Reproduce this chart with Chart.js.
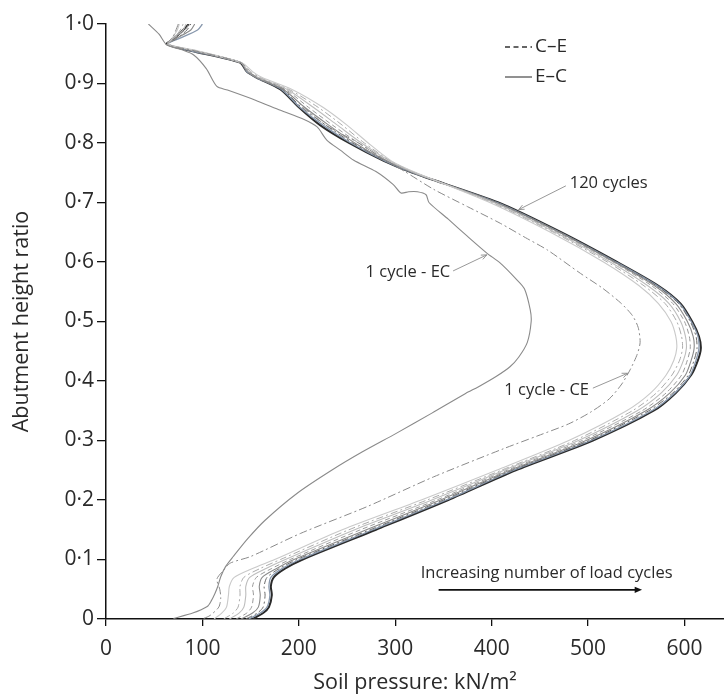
<!DOCTYPE html>
<html><head><meta charset="utf-8">
<script src="https://cdn.jsdelivr.net/npm/chart.js@4/dist/chart.umd.min.js"></script>
<style>html,body{margin:0;padding:0;background:#fff;}canvas{display:block;}</style>
</head><body>
<canvas id="c" width="724" height="697"></canvas>
<script>
// ---------- DATA ----------
// shared abutment height ratios for the cycle bundle
const heights = [0, 0.01, 0.02, 0.04, 0.055, 0.07, 0.085, 0.1, 0.15, 0.2, 0.25, 0.3, 0.35, 0.38, 0.41, 0.435, 0.455, 0.475, 0.5, 0.53, 0.56, 0.6, 0.65, 0.7, 0.75, 0.77, 0.8, 0.83, 0.86, 0.89, 0.91, 0.92, 0.935, 0.955, 0.966, 0.975, 0.99, 1.0];

// soil pressure (kN/m2) for intermediate cycles and 120 cycles
const curveA = [112,120,125,127,128,133,152,175,245,327,405,480,540,565,581,589,592,591,586,573,553,516,461,398,322,296,272,250,225,193,162,152,141,95,64,68,74,76];
const curveB = [122,132,137,139,139,143,160,181,252,333,410,486,546,571,587,595,598,597,592,580,558,520,464,400,321,295,268,245,220,190,160,150,140,94,64,70,77,80];
const curveC = [128,138,143,145,145,149,166,186,258,338,413,490,551,576,592,599,602,601,596,584,562,523,466,402,320,294,265,240,215,188,158,148,140,93,64,69,80,83];
const curveD = [135,146,151,153,152,156,172,191,264,343,416,494,556,581,597,603,606,605,600,588,566,526,468,403,320,292,262,235,210,186,157,147,140,92,64,70,82,86];
const curveE = [140,152,158,160,159,162,177,195,270,347,419,498,560,585,601,607,610,609,603,591,569,527,470,404,319,291,258,231,206,184,156,147,140,91,64,72,88,92];
const curveF = [145,157,163,165,164,167,180,198,274,350,421,501,563,588,604,610,613,612,606,594,571,528,471,405,319,290,256,228,203,183,156,146,140,89,64,73,84,88];
const curveG = [148,160,167,170,169,171,183,201,277,353,423,503,566,590,606,612,615,614,607,595,572,529,471,406,318,289,254,225,201,182,156,146,140,88,64,75,95,100];
const cycles120 = [152,163,169,172,171,174,186,204,280,355,425,505,568,591,607,614,617,615,608,596,573,530,472,407,318,288,252,222,200,181,156,146,139,88,63,70,80,86];

// 1 cycle, E-C
const ecPressure = [44,55,63,78,91,104,115,126,155,181,205,219,229,243,257,280,298,306,314,323,332,335,355,375,395,409,425,434,440,441,437,428,419,405,386,373,338,301,266,234,198,165,147,132,124,119,116,113,109,105,90,70];
const ecHeight   = [1.0,0.983,0.965,0.957,0.948,0.925,0.895,0.889,0.872,0.855,0.84,0.827,0.805,0.788,0.771,0.752,0.73,0.716,0.718,0.718,0.713,0.7,0.672,0.643,0.615,0.598,0.572,0.555,0.52,0.5,0.465,0.44,0.424,0.408,0.39,0.379,0.346,0.312,0.281,0.25,0.211,0.166,0.135,0.105,0.088,0.071,0.055,0.043,0.03,0.021,0.01,0.001];

// 1 cycle, C-E
const cePressure = [75,70,64,92,140,148,157,185,205,228,262,286,310,340,375,409,435,458,492,515,534,546,552,554,551,544,535,522,503,480,448,412,340,271,202,150,129,122,115,118,119,117,108,100];
const ceHeight   = [1.0,0.98,0.966,0.955,0.935,0.92,0.91,0.89,0.86,0.83,0.8,0.775,0.752,0.722,0.693,0.665,0.641,0.62,0.581,0.556,0.531,0.51,0.49,0.465,0.445,0.42,0.395,0.37,0.348,0.328,0.308,0.286,0.239,0.189,0.144,0.105,0.094,0.082,0.067,0.05,0.035,0.02,0.006,0];

// ticks
const yTickValues = [0,0.1,0.2,0.3,0.4,0.5,0.6,0.7,0.8,0.9,1.0];
const yTickLabels = ['0','0·1','0·2','0·3','0·4','0·5','0·6','0·7','0·8','0·9','1·0'];
const xTickValues = [0,100,200,300,400,500,600];
const xTickLabels = ['0','100','200','300','400','500','600'];

// ---------- CHART ----------
const FONT = "'Open Sans', 'Noto Sans', sans-serif";
const TXT = '#2a2a2a';

function pts(xs, ys){ return xs.map((v,i)=>({x:v, y:ys[i]})); }

const bundle = [
  {name:'curveA', data:curveA, color:'#c9c9c9', w:1.1, dash:[]},
  {name:'curveB', data:curveB, color:'#ababab', w:1.0, dash:[7,3,2,3]},
  {name:'curveC', data:curveC, color:'#bdbdbd', w:1.1, dash:[]},
  {name:'curveD', data:curveD, color:'#9a9a9a', w:1.0, dash:[5,3]},
  {name:'curveE', data:curveE, color:'#8a8a8a', w:1.1, dash:[]},
  {name:'curveF', data:curveF, color:'#6a6a6a', w:1.0, dash:[7,3,2,3]},
  {name:'curveG', data:curveG, color:'#8898ad', w:1.3, dash:[]},
  {name:'120 cycles', data:cycles120, color:'#2b2b2b', w:2.0, dash:[]}
];

const datasets = [
  {label:'1 cycle - EC', data:pts(ecPressure, ecHeight), borderColor:'#8a8a8a', borderWidth:1.1, borderDash:[]},
  {label:'1 cycle - CE', data:pts(cePressure, ceHeight), borderColor:'#8a8a8a', borderWidth:1.0, borderDash:[8,3,2,3]}
].concat(bundle.map(b=>({label:b.name, data:pts(b.data, heights), borderColor:b.color, borderWidth:b.w, borderDash:b.dash})));
datasets.forEach(d=>{ d.showLine=true; d.pointRadius=0; d.tension=0.25; d.fill=false; });

function arrowHead(ctx, x1,y1,x2,y2, size, filled){
  const a = Math.atan2(y2-y1, x2-x1);
  ctx.beginPath();
  ctx.moveTo(x2 - size*Math.cos(a-0.4), y2 - size*Math.sin(a-0.4));
  ctx.lineTo(x2, y2);
  ctx.lineTo(x2 - size*Math.cos(a+0.4), y2 - size*Math.sin(a+0.4));
  if (filled){ ctx.closePath(); ctx.fill(); } else ctx.stroke();
}

const annotations = [
  {text:'120 cycles', tx:481, ty:0.733, align:'left', from:[477,0.728], to:[428,0.688]},
  {text:'1 cycle - EC', tx:357, ty:0.582, align:'right', from:[360,0.585], to:[395,0.612]},
  {text:'1 cycle - CE', tx:501, ty:0.385, align:'right', from:[505,0.388], to:[541,0.413]}
];

const annotPlugin = {
  id:'annot',
  afterDatasetsDraw(chart){
    const {ctx, scales:{x, y}, chartArea} = chart;
    ctx.save();
    ctx.font = "16.5px " + FONT;
    ctx.fillStyle = TXT;
    ctx.textBaseline = 'middle';
    annotations.forEach(a=>{
      ctx.textAlign = a.align;
      ctx.fillText(a.text, x.getPixelForValue(a.tx), y.getPixelForValue(a.ty));
      const x1 = x.getPixelForValue(a.from[0]), y1 = y.getPixelForValue(a.from[1]);
      const x2 = x.getPixelForValue(a.to[0]), y2 = y.getPixelForValue(a.to[1]);
      ctx.strokeStyle = '#8c8c8c'; ctx.lineWidth = 0.9; ctx.setLineDash([]);
      ctx.beginPath(); ctx.moveTo(x1,y1); ctx.lineTo(x2,y2); ctx.stroke();
      arrowHead(ctx, x1,y1,x2,y2, 6, false);
    });
    // increasing arrow
    ctx.textAlign = 'center';
    ctx.fillText('Increasing number of load cycles', x.getPixelForValue(457), y.getPixelForValue(0.077));
    const ax1 = x.getPixelForValue(345), ax2 = x.getPixelForValue(556), ay = y.getPixelForValue(0.049);
    ctx.strokeStyle = '#111'; ctx.fillStyle = '#111'; ctx.lineWidth = 1.6;
    ctx.beginPath(); ctx.moveTo(ax1, ay); ctx.lineTo(ax2-4, ay); ctx.stroke();
    arrowHead(ctx, ax1, ay, ax2, ay, 8, true);
    // legend
    const lx = chartArea.left + 399, ly1 = 47, ly2 = 77;
    ctx.lineWidth = 1.3;
    ctx.strokeStyle = '#333';
    ctx.setLineDash([5,3.5]);
    ctx.beginPath(); ctx.moveTo(lx, ly1); ctx.lineTo(lx+27, ly1); ctx.stroke();
    ctx.setLineDash([]);
    ctx.strokeStyle = '#555';
    ctx.beginPath(); ctx.moveTo(lx, ly2); ctx.lineTo(lx+27, ly2); ctx.stroke();
    ctx.font = "19px " + FONT;
    ctx.fillStyle = TXT;
    ctx.textAlign = 'left';
    ctx.fillText('C–E', lx+30, ly1);
    ctx.fillText('E–C', lx+30, ly2);
    ctx.restore();
  }
};

new Chart(document.getElementById('c'), {
  type:'scatter',
  data:{datasets},
  plugins:[annotPlugin],
  options:{
    responsive:false,
    animation:false,
    devicePixelRatio:1,
    layout:{padding:{top:24, right:0, left:0, bottom:0}},
    plugins:{legend:{display:false}, tooltip:{enabled:false}},
    scales:{
      x:{
        type:'linear', min:0, max:641,
        afterBuildTicks:(s)=>{ s.ticks = xTickValues.map(v=>({value:v})); },
        afterFit:(s)=>{ s.height = 78; },
        ticks:{callback:(v)=>xTickLabels[xTickValues.indexOf(v)] ?? '', font:{family:FONT, size:21}, color:TXT, padding:10, maxRotation:0},
        grid:{drawOnChartArea:false, drawTicks:true, tickLength:7, color:'#111', lineWidth:1.3},
        border:{display:true, color:'#111', width:1.5},
        title:{display:true, text:'Soil pressure: kN/m²', font:{family:FONT, size:21.5}, color:TXT, padding:{top:0, bottom:1}}
      },
      y:{
        type:'linear', min:0, max:1.0,
        afterBuildTicks:(s)=>{ s.ticks = yTickValues.map(v=>({value:v})); },
        afterFit:(s)=>{ s.width = 106; },
        ticks:{callback:(v)=>{ const i = yTickValues.findIndex(t=>Math.abs(t-v)<1e-6); return i>=0 ? yTickLabels[i] : ''; }, font:{family:FONT, size:21}, color:TXT, padding:3},
        grid:{drawOnChartArea:false, drawTicks:true, tickLength:9, color:'#111', lineWidth:1.3},
        border:{display:true, color:'#111', width:1.5},
        title:{display:true, text:'Abutment height ratio', font:{family:FONT, size:21.5}, color:TXT, padding:{top:9, bottom:0}}
      }
    }
  }
});
</script>
</body></html>
